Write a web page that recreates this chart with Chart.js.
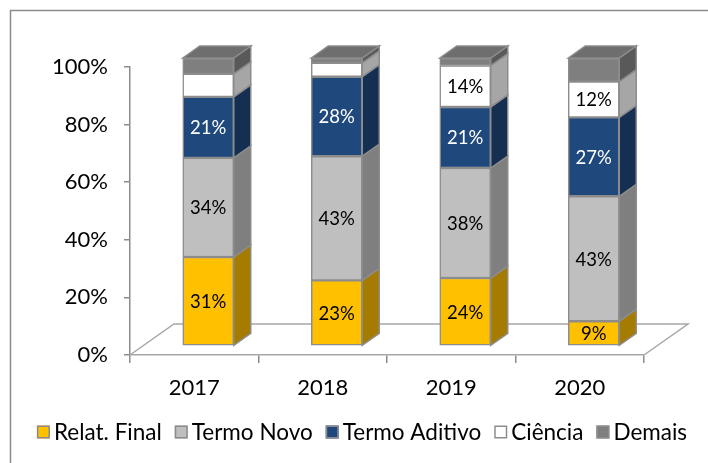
<!DOCTYPE html>
<html>
<head>
<meta charset="utf-8">
<script src="https://cdn.jsdelivr.net/npm/chart.js@4/dist/chart.umd.min.js"></script>
<style>
  html, body { margin: 0; padding: 0; background: #fff; }
  #wrap { width: 708px; height: 463px; }
</style>
</head>
<body>
<div id="wrap"><canvas id="grafico"></canvas></div>
<script>
// anos e valores (% de cada tipo por ano)
const anos = ["2017", "2018", "2019", "2020"];
const relatFinal = [30.9, 22.8, 23.6, 8.6];
const termoNovo = [34.4, 43.1, 38.2, 43.4];
const termoAditivo = [21.2, 27.6, 21.2, 27.4];
const ciencia = [8.0, 4.8, 14.4, 12.4];
const demais = [5.5, 1.7, 2.6, 8.2];

// profundidade do "3d"
const prof = { dx: 17, dy: -12 };
const desloc = { x: 14, y: -9 };
const piso = { dx: 44, dy: -31 };

Chart.defaults.font.family = "Lato, 'DejaVu Sans', sans-serif";
Chart.defaults.color = "#000";

function face(ctx, pts, cor) {
  ctx.beginPath();
  ctx.moveTo(pts[0][0], pts[0][1]);
  for (let i = 1; i < pts.length; i++) ctx.lineTo(pts[i][0], pts[i][1]);
  ctx.closePath();
  ctx.fillStyle = cor;
  ctx.fill();
  ctx.strokeStyle = "#8c8c8c";
  ctx.lineWidth = 1.5;
  ctx.stroke();
}

// moldura cinza em volta
const moldura = {
  id: "moldura",
  beforeDraw(chart) {
    const ctx = chart.ctx;
    ctx.save();
    ctx.strokeStyle = "#8c8c8c";
    ctx.lineWidth = 1.5;
    ctx.strokeRect(10.5, 10.5, chart.width, chart.height);
    ctx.restore();
  },
};

// legenda desenhada à mão (quadrado colado no texto, como no Excel)
const legenda = {
  id: "legenda",
  afterDraw(chart) {
    const ctx = chart.ctx;
    const caixa = 13, gapTexto = 4, gapItem = 13;
    const centroX = 362, centroY = 432;
    ctx.save();
    ctx.font = "22.5px Lato";
    ctx.textBaseline = "middle";
    ctx.textAlign = "left";
    const itens = chart.data.datasets.map((ds) => ({ ds, w: ctx.measureText(ds.label).width }));
    const total = itens.reduce((s, it) => s + caixa + gapTexto + it.w, 0) + gapItem * (itens.length - 1);
    let x = centroX - total / 2;
    itens.forEach((it) => {
      ctx.fillStyle = it.ds.backgroundColor;
      ctx.fillRect(x, centroY - caixa / 2, caixa, caixa);
      ctx.strokeStyle = "#8c8c8c";
      ctx.lineWidth = 1.5;
      ctx.strokeRect(x + 0.75, centroY - caixa / 2 + 0.75, caixa - 1.5, caixa - 1.5);
      x += caixa + gapTexto;
      ctx.fillStyle = "#000";
      ctx.fillText(it.ds.label, x, centroY + 1);
      x += it.w + gapItem;
    });
    ctx.restore();
  },
};

// piso, faces laterais/topo e rótulos
const barras3d = {
  id: "barras3d",
  beforeDatasetsDraw(chart) {
    const ctx = chart.ctx;
    const a = chart.chartArea;
    ctx.save();
    ctx.strokeStyle = "#a6a6a6";
    ctx.lineWidth = 1.5;
    ctx.beginPath();
    ctx.moveTo(a.left, a.bottom);
    ctx.lineTo(a.left + piso.dx, a.bottom + piso.dy);
    ctx.lineTo(a.right + piso.dx, a.bottom + piso.dy);
    ctx.lineTo(a.right, a.bottom);
    ctx.stroke();
    ctx.restore();
    ctx.save();
    ctx.translate(desloc.x, desloc.y);
  },
  afterDatasetsDraw(chart) {
    const ctx = chart.ctx;
    const ultimo = chart.data.datasets.length - 1;
    chart.data.datasets.forEach((ds, i) => {
      chart.getDatasetMeta(i).data.forEach((bar) => {
        const p = bar.getProps(["x", "y", "base", "width"], true);
        const l = p.x - p.width / 2;
        const r = p.x + p.width / 2;
        face(ctx, [[r, p.y], [r + prof.dx, p.y + prof.dy], [r + prof.dx, p.base + prof.dy], [r, p.base]], ds.corLado);
        if (i === ultimo) {
          face(ctx, [[l, p.y], [l + prof.dx, p.y + prof.dy], [r + prof.dx, p.y + prof.dy], [r, p.y]], ds.corTopo);
        }
      });
    });
    // rótulos
    ctx.font = "18.5px Lato";
    ctx.textAlign = "center";
    ctx.textBaseline = "middle";
    chart.data.datasets.forEach((ds, i) => {
      chart.getDatasetMeta(i).data.forEach((bar, j) => {
        const v = ds.data[j];
        if (v < ds.minRotulo) return;
        const p = bar.getProps(["x", "y", "base"], true);
        ctx.fillStyle = ds.corTexto;
        ctx.fillText(Math.round(v) + "%", p.x, (p.y + p.base) / 2 + 1);
      });
    });
    ctx.restore();
  },
};

const datasets = [
  { label: "Relat. Final", data: relatFinal, backgroundColor: "#ffc000", corLado: "#a67c00", corTexto: "#000", minRotulo: 0 },
  { label: "Termo Novo", data: termoNovo, backgroundColor: "#bfbfbf", corLado: "#7f7f7f", corTexto: "#000", minRotulo: 0 },
  { label: "Termo Aditivo", data: termoAditivo, backgroundColor: "#1f497d", corLado: "#152f52", corTexto: "#fff", minRotulo: 0 },
  { label: "Ciência", data: ciencia, backgroundColor: "#ffffff", corLado: "#a6a6a6", corTexto: "#000", minRotulo: 10 },
  { label: "Demais", data: demais, backgroundColor: "#7f7f7f", corLado: "#595959", corTopo: "#6e6e6e", corTexto: "#000", minRotulo: 101 },
];
datasets.forEach((d) => {
  d.borderColor = "#8c8c8c";
  d.borderWidth = 1.5;
  d.borderSkipped = false;
  d.barThickness = 51;
  d.clip = false;
});

const config = {
  type: "bar",
  data: { labels: anos, datasets },
  options: {
    responsive: true,
    maintainAspectRatio: false,
    animation: false,
    layout: { padding: { left: 10, right: 64, top: 67, bottom: 49 } },
    plugins: {
      legend: { display: false },
      tooltip: { enabled: false },
    },
    scales: {
      x: {
        stacked: true,
        grid: { drawOnChartArea: false, drawTicks: true, tickLength: 8, color: "#8c8c8c", lineWidth: 1.5, offset: true },
        border: { color: "#a6a6a6", width: 1.5 },
        ticks: { font: { size: 22 }, padding: 12 },
        afterFit(s) { s.height = 59; },
      },
      y: {
        stacked: true,
        min: 0,
        max: 100,
        grid: { drawOnChartArea: false, drawTicks: true, tickLength: 6, color: "#8c8c8c", lineWidth: 1.5 },
        border: { color: "#8c8c8c", width: 1.5 },
        ticks: { stepSize: 20, font: { size: 22 }, padding: 16, callback: (v) => v + "%" },
        afterFit(s) { s.width = 120; },
      },
    },
  },
  plugins: [moldura, barras3d, legenda],
};

const canvas = document.getElementById("grafico");
const grafico = new Chart(canvas, config);
</script>
</body>
</html>
